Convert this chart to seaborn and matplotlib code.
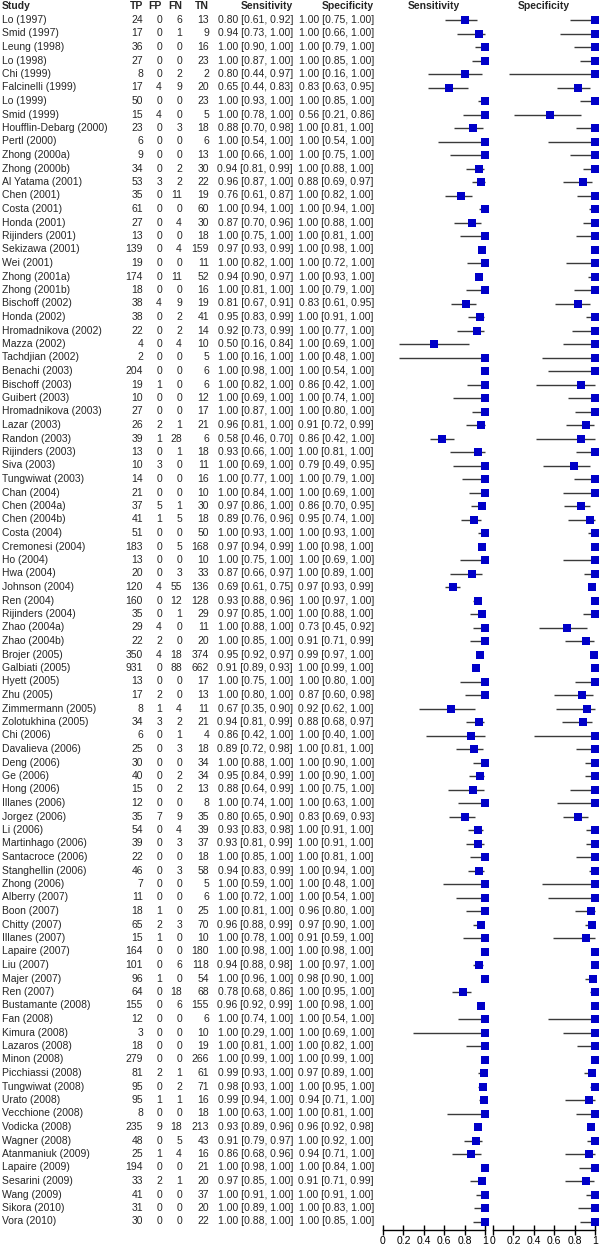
import numpy as np
import pandas as pd
import matplotlib
matplotlib.use("Agg")
import matplotlib.pyplot as plt
import seaborn as sns

studies = ["Lo (1997)", "Smid (1997)", "Leung (1998)", "Lo (1998)", "Chi (1999)", "Falcinelli (1999)",
           "Lo (1999)", "Smid (1999)", "Houfflin-Debarg (2000)", "Pertl (2000)", "Zhong (2000a)",
           "Zhong (2000b)", "Al Yatama (2001)", "Chen (2001)", "Costa (2001)", "Honda (2001)",
           "Rijinders (2001)", "Sekizawa (2001)", "Wei (2001)", "Zhong (2001a)", "Zhong (2001b)",
           "Bischoff (2002)", "Honda (2002)", "Hromadnikova (2002)", "Mazza (2002)", "Tachdjian (2002)",
           "Benachi (2003)", "Bischoff (2003)", "Guibert (2003)", "Hromadnikova (2003)", "Lazar (2003)",
           "Randon (2003)", "Rijinders (2003)", "Siva (2003)", "Tungwiwat (2003)", "Chan (2004)",
           "Chen (2004a)", "Chen (2004b)", "Costa (2004)", "Cremonesi (2004)", "Ho (2004)", "Hwa (2004)",
           "Johnson (2004)", "Ren (2004)", "Rijinders (2004)", "Zhao (2004a)", "Zhao (2004b)",
           "Brojer (2005)", "Galbiati (2005)", "Hyett (2005)", "Zhu (2005)", "Zimmermann (2005)",
           "Zolotukhina (2005)", "Chi (2006)", "Davalieva (2006)", "Deng (2006)", "Ge (2006)",
           "Hong (2006)", "Illanes (2006)", "Jorgez (2006)", "Li (2006)", "Martinhago (2006)",
           "Santacroce (2006)", "Stanghellin (2006)", "Zhong (2006)", "Alberry (2007)", "Boon (2007)",
           "Chitty (2007)", "Illanes (2007)", "Lapaire (2007)", "Liu (2007)", "Majer (2007)",
           "Ren (2007)", "Bustamante (2008)", "Fan (2008)", "Kimura (2008)", "Lazaros (2008)",
           "Minon (2008)", "Picchiassi (2008)", "Tungwiwat (2008)", "Urato (2008)", "Vecchione (2008)",
           "Vodicka (2008)", "Wagner (2008)", "Atanmaniuk (2009)", "Lapaire (2009)", "Sesarini (2009)",
           "Wang (2009)", "Sikora (2010)", "Vora (2010)"]

tp = [24, 17, 36, 27, 8, 17, 50, 15, 23, 6, 9, 34, 53, 35, 61, 27, 13, 139, 19, 174, 18, 38, 38, 22, 4, 2,
      204, 19, 10, 27, 26, 39, 13, 10, 14, 21, 37, 41, 51, 183, 13, 20, 120, 160, 35, 29, 22, 350, 931, 13,
      17, 8, 34, 6, 25, 30, 40, 15, 12, 35, 54, 39, 22, 46, 7, 11, 18, 65, 15, 164, 101, 96, 64, 155, 12,
      3, 18, 279, 81, 95, 95, 8, 235, 48, 25, 194, 33, 41, 31, 30]
fp = [0, 0, 0, 0, 0, 4, 0, 4, 0, 0, 0, 0, 3, 0, 0, 0, 0, 0, 0, 0, 0, 4, 0, 0, 0, 0,
      0, 1, 0, 0, 2, 1, 0, 3, 0, 0, 5, 1, 0, 0, 0, 0, 4, 0, 0, 4, 2, 4, 0, 0,
      2, 1, 3, 0, 0, 0, 0, 0, 0, 7, 0, 0, 0, 0, 0, 0, 1, 2, 1, 0, 0, 1, 0, 0, 0,
      0, 0, 0, 2, 0, 1, 0, 9, 0, 1, 0, 2, 0, 0, 0]
fn = [6, 1, 0, 0, 2, 9, 0, 0, 3, 0, 0, 2, 2, 11, 0, 4, 0, 4, 0, 11, 0, 9, 2, 2, 4, 0,
      0, 0, 0, 0, 1, 28, 1, 0, 0, 0, 1, 5, 0, 5, 0, 3, 55, 12, 1, 0, 0, 18, 88, 0,
      0, 4, 2, 1, 3, 0, 2, 2, 0, 9, 4, 3, 0, 3, 0, 0, 0, 3, 0, 0, 6, 0, 18, 6, 0,
      0, 0, 0, 1, 2, 1, 0, 18, 5, 4, 0, 1, 0, 0, 0]
tn = [13, 9, 16, 23, 2, 20, 23, 5, 18, 6, 13, 30, 22, 19, 60, 30, 18, 159, 11, 52, 16, 19, 41, 14, 10, 5,
      6, 6, 12, 17, 21, 6, 18, 11, 16, 10, 30, 18, 50, 168, 10, 33, 136, 128, 29, 11, 20, 374, 662, 17,
      13, 11, 21, 4, 18, 34, 34, 13, 8, 35, 39, 37, 18, 58, 5, 6, 25, 70, 10, 180, 118, 54, 68, 155, 6,
      10, 19, 266, 61, 71, 16, 18, 213, 43, 16, 21, 20, 37, 20, 22]

sens = [0.80, 0.94, 1.00, 1.00, 0.80, 0.65, 1.00, 1.00, 0.88, 1.00, 1.00, 0.94, 0.96, 0.76, 1.00, 0.87,
        1.00, 0.97, 1.00, 0.94, 1.00, 0.81, 0.95, 0.92, 0.50, 1.00, 1.00, 1.00, 1.00, 1.00, 0.96, 0.58,
        0.93, 1.00, 1.00, 1.00, 0.97, 0.89, 1.00, 0.97, 1.00, 0.87, 0.69, 0.93, 0.97, 1.00, 1.00, 0.95,
        0.91, 1.00, 1.00, 0.67, 0.94, 0.86, 0.89, 1.00, 0.95, 0.88, 1.00, 0.80, 0.93, 0.93, 1.00, 0.94,
        1.00, 1.00, 1.00, 0.96, 1.00, 1.00, 0.94, 1.00, 0.78, 0.96, 1.00, 1.00, 1.00, 1.00, 0.99, 0.98,
        0.99, 1.00, 0.93, 0.91, 0.86, 1.00, 0.97, 1.00, 1.00, 1.00]
sens_lo = [0.61, 0.73, 0.90, 0.87, 0.44, 0.44, 0.93, 0.78, 0.70, 0.54, 0.66, 0.81, 0.87, 0.61, 0.94, 0.70,
           0.75, 0.93, 0.82, 0.90, 0.81, 0.67, 0.83, 0.73, 0.16, 0.16, 0.98, 0.82, 0.69, 0.87, 0.81, 0.46,
           0.66, 0.69, 0.77, 0.84, 0.86, 0.76, 0.93, 0.94, 0.75, 0.66, 0.61, 0.88, 0.85, 0.88, 0.85, 0.92,
           0.89, 0.75, 0.80, 0.35, 0.81, 0.42, 0.72, 0.88, 0.84, 0.64, 0.74, 0.65, 0.83, 0.81, 0.85, 0.83,
           0.59, 0.72, 0.81, 0.88, 0.78, 0.98, 0.88, 0.96, 0.68, 0.92, 0.74, 0.29, 0.81, 0.99, 0.93, 0.93,
           0.94, 0.63, 0.89, 0.79, 0.68, 0.98, 0.85, 0.91, 0.89, 0.88]
sens_hi = [0.92, 1.00, 1.00, 1.00, 0.97, 0.83, 1.00, 1.00, 0.98, 1.00, 1.00, 0.99, 1.00, 0.87, 1.00, 0.96,
           1.00, 0.99, 1.00, 0.97, 1.00, 0.91, 0.99, 0.99, 0.84, 1.00, 1.00, 1.00, 1.00, 1.00, 1.00, 0.70,
           1.00, 1.00, 1.00, 1.00, 1.00, 0.96, 1.00, 0.99, 1.00, 0.97, 0.75, 0.96, 1.00, 1.00, 1.00, 0.97,
           0.93, 1.00, 1.00, 0.90, 0.99, 1.00, 0.98, 1.00, 0.99, 0.99, 1.00, 0.90, 0.98, 0.99, 1.00, 0.99,
           1.00, 1.00, 1.00, 0.99, 1.00, 1.00, 0.98, 1.00, 0.86, 0.99, 1.00, 1.00, 1.00, 1.00, 1.00, 1.00,
           1.00, 1.00, 0.96, 0.97, 0.96, 1.00, 1.00, 1.00, 1.00, 1.00]

spec = [1.00, 1.00, 1.00, 1.00, 1.00, 0.83, 1.00, 0.56, 1.00, 1.00, 1.00, 1.00, 0.88, 1.00, 1.00, 1.00,
        1.00, 1.00, 1.00, 1.00, 1.00, 0.83, 1.00, 1.00, 1.00, 1.00, 1.00, 0.86, 1.00, 1.00, 0.91, 0.86,
        1.00, 0.79, 1.00, 1.00, 0.86, 0.95, 1.00, 1.00, 1.00, 1.00, 0.97, 1.00, 1.00, 0.73, 0.91, 0.99,
        1.00, 1.00, 0.87, 0.92, 0.88, 1.00, 1.00, 1.00, 1.00, 1.00, 1.00, 0.83, 1.00, 1.00, 1.00, 1.00,
        1.00, 1.00, 0.96, 0.97, 0.91, 1.00, 1.00, 0.98, 1.00, 1.00, 1.00, 1.00, 1.00, 1.00, 0.97, 1.00,
        0.94, 1.00, 0.96, 1.00, 0.94, 1.00, 0.91, 1.00, 1.00, 1.00]
spec_lo = [0.75, 0.66, 0.79, 0.85, 0.16, 0.63, 0.85, 0.21, 0.81, 0.54, 0.75, 0.88, 0.69, 0.82, 0.94, 0.88,
           0.81, 0.98, 0.72, 0.93, 0.79, 0.61, 0.91, 0.77, 0.69, 0.48, 0.54, 0.42, 0.74, 0.80, 0.72, 0.42,
           0.81, 0.49, 0.79, 0.69, 0.70, 0.74, 0.93, 0.98, 0.69, 0.89, 0.93, 0.97, 0.88, 0.45, 0.71, 0.97,
           0.99, 0.80, 0.60, 0.62, 0.68, 0.40, 0.81, 0.90, 0.90, 0.75, 0.63, 0.69, 0.91, 0.91, 0.81, 0.94,
           0.48, 0.54, 0.80, 0.90, 0.59, 0.98, 0.97, 0.90, 0.95, 0.98, 0.54, 0.69, 0.82, 0.99, 0.89, 0.95,
           0.71, 0.81, 0.92, 0.92, 0.71, 0.84, 0.71, 0.91, 0.83, 0.85]
spec_hi = [1.00, 1.00, 1.00, 1.00, 1.00, 0.95, 1.00, 0.86, 1.00, 1.00, 1.00, 1.00, 0.97, 1.00, 1.00, 1.00,
           1.00, 1.00, 1.00, 1.00, 1.00, 0.95, 1.00, 1.00, 1.00, 1.00, 1.00, 1.00, 1.00, 1.00, 0.99, 1.00,
           1.00, 0.95, 1.00, 1.00, 0.95, 1.00, 1.00, 1.00, 1.00, 1.00, 0.99, 1.00, 1.00, 0.92, 0.99, 1.00,
           1.00, 1.00, 0.98, 1.00, 0.97, 1.00, 1.00, 1.00, 1.00, 1.00, 1.00, 0.93, 1.00, 1.00, 1.00, 1.00,
           1.00, 1.00, 1.00, 1.00, 1.00, 1.00, 1.00, 1.00, 1.00, 1.00, 1.00, 1.00, 1.00, 1.00, 1.00, 1.00,
           1.00, 1.00, 0.98, 1.00, 1.00, 1.00, 0.99, 1.00, 1.00, 1.00]

header = ["Study", "TP", "FP", "FN", "TN", "Sensitivity", "Specificity"]
xticks = [0, 0.2, 0.4, 0.6, 0.8, 1]
xtick_labels = ["0", "0.2", "0.4", "0.6", "0.8", "1"]

sns.set_style("white")
plt.rcParams['font.family'] = ['Liberation Sans', 'DejaVu Sans']

W, H = 600, 1248
fig = plt.figure(figsize=(W / 100, H / 100), dpi=100)

n = len(studies)
row = np.arange(n)
df = pd.DataFrame({"study": studies, "row": row, "sens": sens, "sens_lo": sens_lo, "sens_hi": sens_hi,
                   "spec": spec, "spec_lo": spec_lo, "spec_hi": spec_hi})

# vertical mapping: row i at pixel 20 + 13.5*i; axis line at pixel 1230
y0, dy, yaxis = 20.0, 13.5, 1230.0
ylim = ((yaxis - y0) / dy, (0 - y0) / dy)
bottom = (H - yaxis) / H
height = yaxis / H
hdr_y = (6 - y0) / dy

FS = 7.5
# table
axt = fig.add_axes([0, bottom, 1, height])
axt.set_xlim(0, W)
axt.set_ylim(*ylim)
axt.axis("off")
col_x = [2, 143, 162, 182, 209, 293, 374]
col_ha = ["left", "right", "right", "right", "right", "right", "right"]
for x, ha, h in zip(col_x, col_ha, header):
    axt.text(x, hdr_y, h, ha=ha, va="center", fontsize=FS, fontweight="bold")
for i in range(n):
    vals = [studies[i], str(tp[i]), str(fp[i]), str(fn[i]), str(tn[i]),
            f"{sens[i]:.2f} [{sens_lo[i]:.2f}, {sens_hi[i]:.2f}]",
            f"{spec[i]:.2f} [{spec_lo[i]:.2f}, {spec_hi[i]:.2f}]"]
    for x, ha, v in zip(col_x, col_ha, vals):
        axt.text(x, i, v, ha=ha, va="center", fontsize=FS)

panels = [("Sensitivity", "sens", 383), ("Specificity", "spec", 493)]
for title, key, left in panels:
    ax = fig.add_axes([left / W, bottom, 102 / W, height])
    ax.hlines(df["row"], df[key + "_lo"], df[key + "_hi"], color="#3a3a3a", lw=1.0, clip_on=False)
    sns.scatterplot(data=df, x=key, y="row", marker="s", s=26, color="#0000C8",
                    linewidth=0, ax=ax, clip_on=False, zorder=3)
    ax.set_xlim(0, 1)
    ax.set_ylim(*ylim)
    ax.set_xlabel("")
    ax.set_ylabel("")
    ax.set_yticks([])
    ax.set_xticks(xticks)
    ax.set_xticklabels(xtick_labels, fontsize=FS)
    ax.tick_params(axis="x", bottom=True, direction="inout", length=7, width=1, pad=1, colors="black")
    for s in ["top", "left", "right"]:
        ax.spines[s].set_visible(False)
    ax.spines["bottom"].set_color("black")
    ax.spines["bottom"].set_linewidth(1)
    ax.patch.set_alpha(0)
    ax.text(0.5, hdr_y, title, ha="center", va="center", fontsize=FS, fontweight="bold")

fig.savefig("out.png", dpi=100)
